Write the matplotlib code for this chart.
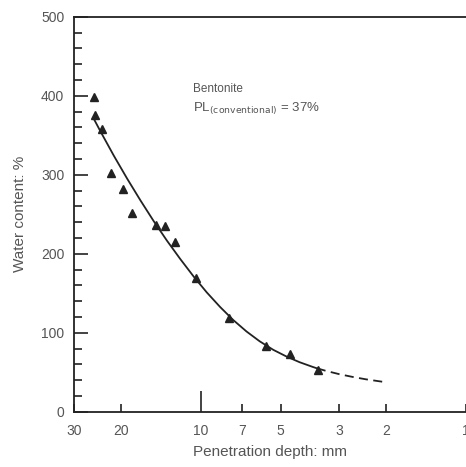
import matplotlib
matplotlib.use("Agg")
import matplotlib.pyplot as plt
from matplotlib.ticker import FixedLocator, MultipleLocator, NullFormatter

# measured points (penetration depth mm, water content %)
depth = [25.2, 25.0, 23.6, 21.7, 19.6, 18.1, 14.8, 13.6, 12.5, 10.4, 7.84, 5.68, 4.6, 3.6]
water = [398, 376, 358, 302, 282, 252, 236, 235, 215, 169, 119, 84, 73, 53]

# fitted curve (solid part, then dashed extension)
fit_depth = [25.2, 23.83, 21.24, 18.93, 16.87, 15.04, 13.40, 11.94, 10.64, 9.49,
             8.45, 7.54, 6.72, 5.99, 5.33, 4.75, 4.24, 3.78, 3.65]
fit_water = [370, 354.6, 324.1, 295.2, 267.7, 241.5, 216.7, 193.5, 171.5, 151.3,
             132.8, 116.3, 101.8, 89.3, 78.6, 70.1, 62.9, 56.9, 55.2]
ext_depth = [3.65, 3.37, 3.0, 2.67, 2.38, 2.05]
ext_water = [55.2, 51.9, 47.7, 44.2, 41.2, 38]

xticks = [30, 20, 10, 7, 5, 3, 2, 1]
xticklabels = ["30", "20", "10", "7", "5", "3", "2", "1"]

ink = "#222222"
txt = "#555555"
plt.rcParams["font.family"] = ["Liberation Sans", "DejaVu Sans"]

fig = plt.figure(figsize=(4.66, 4.67), dpi=100)
ax = fig.add_axes([0.159, 0.118, 0.841, 0.846])

ax.plot(fit_depth, fit_water, color=ink, lw=1.3)
ax.plot(ext_depth, ext_water, color=ink, lw=1.3, linestyle=(0, (5, 3)))
ax.plot(depth, water, linestyle="none", marker="^", ms=6, color=ink)

ax.set_xscale("log")
ax.set_xlim(30, 1)
ax.set_ylim(0, 500)

ax.xaxis.set_major_locator(FixedLocator(xticks))
ax.set_xticklabels(xticklabels)
ax.xaxis.set_minor_formatter(NullFormatter())
ax.xaxis.set_minor_locator(FixedLocator([]))
ax.yaxis.set_major_locator(MultipleLocator(100))
ax.yaxis.set_minor_locator(MultipleLocator(20))

ax.tick_params(axis="y", which="major", direction="in", length=10, width=1.2,
               color=ink, labelcolor=txt, labelsize=10, pad=7)
ax.tick_params(axis="y", which="minor", direction="in", length=6, width=1.2, color=ink)
ax.tick_params(axis="x", which="major", direction="in", length=6, width=1.2,
               color=ink, labelcolor=txt, labelsize=10, pad=9, top=False)
# the 10 mm tick is drawn longer
for t in ax.xaxis.get_major_ticks():
    if t.get_loc() == 10:
        t.tick1line.set_markersize(15)

for s in ["left", "bottom", "top"]:
    ax.spines[s].set_color(ink)
    ax.spines[s].set_linewidth(1.3)
ax.spines["right"].set_visible(False)

ax.set_xlabel("Penetration depth: mm", color=txt, fontsize=11, labelpad=5)
ax.set_ylabel("Water content: %", color=txt, fontsize=11, labelpad=10)

ax.text(0.304, 0.81, "Bentonite", transform=ax.transAxes, color=txt, fontsize=8.5)
ax.text(0.304, 0.76, r"PL$_{\rm (conventional)}$ = 37%", transform=ax.transAxes,
        color=txt, fontsize=9.5)

fig.savefig("out.png", dpi=100)
